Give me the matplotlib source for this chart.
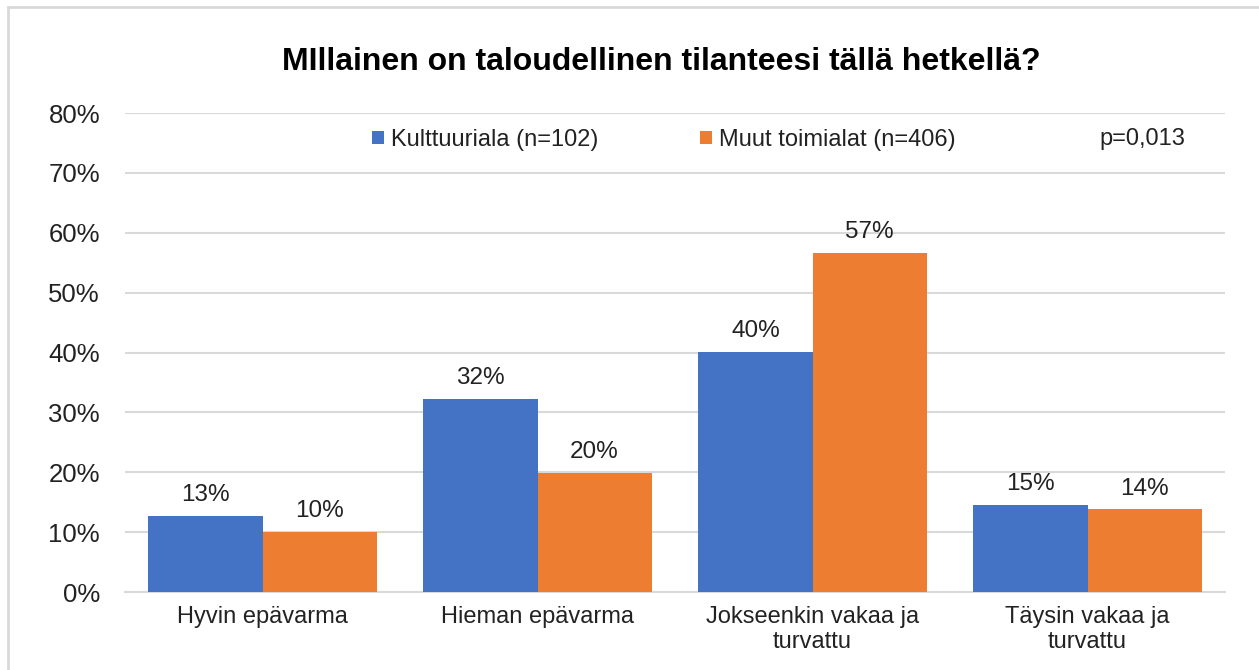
import matplotlib.pyplot as plt
import numpy as np
from matplotlib.patches import Rectangle

# Data
categories = ["Hyvin epävarma", "Hieman epävarma", "Jokseenkin vakaa ja\nturvattu", "Täysin vakaa ja\nturvattu"]
kulttuuri = [12.7, 32.2, 40.1, 14.5]
muut = [10.0, 19.9, 56.6, 13.8]
kulttuuri_labels = ["13%", "32%", "40%", "15%"]
muut_labels = ["10%", "20%", "57%", "14%"]
series_names = ["Kulttuuriala (n=102)", "Muut toimialat (n=406)"]
yticks = [0, 10, 20, 30, 40, 50, 60, 70, 80]

plt.rcParams['font.family'] = ['Liberation Sans', 'DejaVu Sans']

fig = plt.figure(figsize=(12.59, 6.70), dpi=100)
ax = fig.add_axes([0.0993, 0.1164, 0.8737, 0.7149])

x = np.arange(len(categories))
w = 0.415
b1 = ax.bar(x - w / 2, kulttuuri, w, color="#4472C4", label=series_names[0], zorder=3)
b2 = ax.bar(x + w / 2, muut, w, color="#ED7D31", label=series_names[1], zorder=3)

# Data labels
for bars, labels in [(b1, kulttuuri_labels), (b2, muut_labels)]:
    for rect, lab in zip(bars, labels):
        ax.annotate(lab, (rect.get_x() + rect.get_width() / 2, rect.get_height()),
                    xytext=(0, 7), textcoords="offset points", ha="center", va="bottom",
                    fontsize=17.5, color="#222222")

ax.set_xlim(-0.5, len(categories) - 0.5)
ax.set_ylim(0, 80)
ax.set_yticks(yticks)
ax.set_yticklabels([f"{t}%" for t in yticks], fontsize=18.5, color="#222222")
ax.set_xticks(x)
ax.set_xticklabels(categories, fontsize=17, color="#222222", linespacing=1.2)
ax.tick_params(axis="x", length=0, pad=10)
ax.tick_params(axis="y", length=0, pad=18)

ax.grid(axis="y", color="#D9D9D9", linewidth=1.5, zorder=0)
for s in ["top", "right", "left"]:
    ax.spines[s].set_visible(False)
ax.spines["bottom"].set_color("#D9D9D9")
ax.spines["bottom"].set_linewidth(1.5)

# Title
fig.text(0.525, 0.9075, "MIllainen on taloudellinen tilanteesi tällä hetkellä?",
         ha="center", va="center", fontsize=23, fontweight="bold", color="#000000")

# Legend
leg = ax.legend(loc="center", bbox_to_anchor=(0.5274, 0.791), bbox_transform=fig.transFigure,
                ncol=2, frameon=False, fontsize=17, handlelength=0.5, handleheight=0.5,
                handletextpad=0.3, columnspacing=4.3)
for t in leg.get_texts():
    t.set_color("#222222")

fig.text(1185 / 1259, 1 - 139 / 670, "p=0,013", ha="right", va="center", fontsize=17, color="#222222")

# Chart border
fig.patches.append(Rectangle((8 / 1259, -0.1), 1.2, 1 - 7 / 670 + 0.1, transform=fig.transFigure,
                             fill=False, edgecolor="#D9D9D9", linewidth=2))

fig.savefig("out.png", dpi=100, facecolor="white")
